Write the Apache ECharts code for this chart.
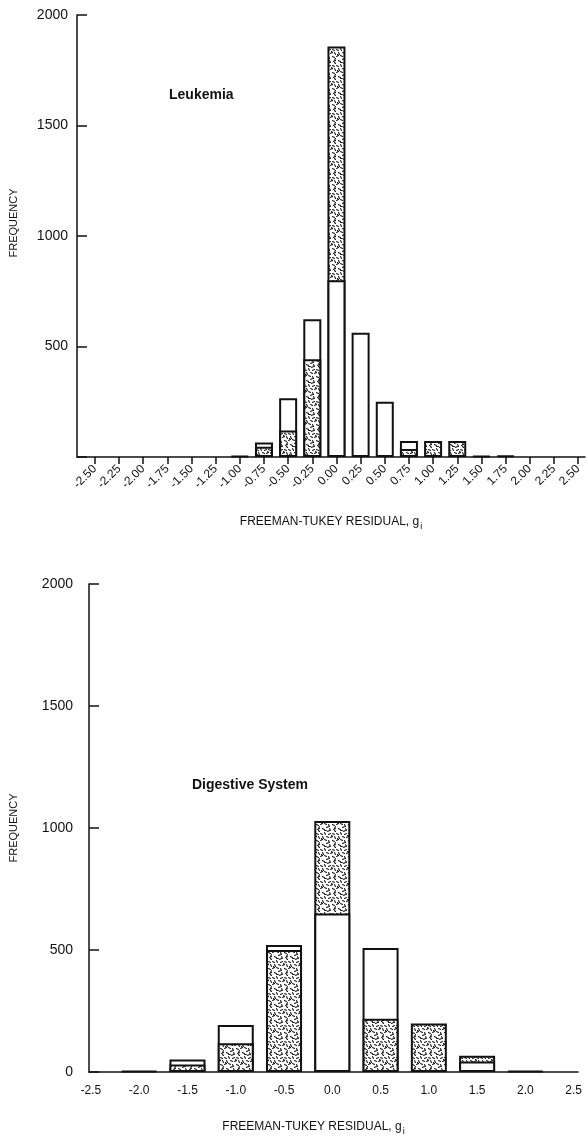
<!DOCTYPE html>
<html>
<head>
<meta charset="utf-8">
<script src="https://cdn.jsdelivr.net/npm/echarts@6/dist/echarts.min.js"></script>
<style>
html,body{margin:0;padding:0;background:#fff;}
#c{width:588px;height:1137px;}
</style>
</head>
<body>
<div id="c"></div>
<script>
// ---- Data: Leukemia (top panel) ----
const topCategories = [-2.5,-2.25,-2.0,-1.75,-1.5,-1.25,-1.0,-0.75,-0.5,-0.25,0.0,0.25,0.5,0.75,1.0,1.25,1.5,1.75,2.0,2.25,2.5];
const topWhite      = [0,0,0,0,0,0,4,66,266,623,800,562,250,72,0,0,4,6,0,0,0];
const topStippled   = [0,0,0,0,0,0,0,46,120,442,1857,0,0,36,72,72,0,0,0,0,0];
const topTickLabels = ['-2.50','-2.25','-2.00','-1.75','-1.50','-1.25','-1.00','-0.75','-0.50','-0.25','0.00','0.25','0.50','0.75','1.00','1.25','1.50','1.75','2.00','2.25','2.50'];

// ---- Data: Digestive System (bottom panel) ----
const botCategories = [-2.0,-1.5,-1.0,-0.5,0.0,0.5,1.0,1.5,2.0];
const botWhite      = [5,51,193,520,650,508,0,43,5];
const botStippled   = [0,31,118,500,1029,218,199,67,0];
const botTickValues = [-2.5,-2.0,-1.5,-1.0,-0.5,0.0,0.5,1.0,1.5,2.0,2.5];
const botTickLabels = ['-2.5','-2.0','-1.5','-1.0','-0.5','0.0','0.5','1.0','1.5','2.0','2.5'];

const yTicks = [0,500,1000,1500,2000];

// ---- stipple texture ----
function makeStipple(){
  const c = document.createElement('canvas');
  c.width = 16; c.height = 16;
  const g = c.getContext('2d');
  g.fillStyle = '#ffffff'; g.fillRect(0,0,16,16);
  g.strokeStyle = '#1e1e1e'; g.lineWidth = 1.1; g.lineCap = 'round';
  const marks = [[0,1,2,1],[4,0,1,2],[8,2,2,-1],[12,1,2,1],[2,4,1,2],[6,4,2,1],[10,5,2,-1],[14,4,1,2],
    [0,8,2,-1],[4,7,2,1],[8,8,1,2],[12,8,2,1],[15,10,-1,2],[2,12,2,1],[6,11,2,-1],[9,12,1,2],
    [13,13,2,-1],[4,14,2,0],[11,3,1,1],[7,15,2,-1],[1,6,1,1],[15,15,-1,-1]];
  marks.forEach(m=>{g.beginPath();g.moveTo(m[0]+0.5,m[1]+0.5);g.lineTo(m[0]+m[2]+0.5,m[1]+m[3]+0.5);g.stroke();});
  return c;
}
const stipple = {image: makeStipple(), repeat: 'repeat'};
const FONT = "'Liberation Sans', Arial, Helvetica, sans-serif";
const INK = '#111';

function layers(cats, white, stip){
  const back = [], front = [];
  cats.forEach((x,i)=>{
    const w = white[i], s = stip[i];
    const hi = Math.max(w,s), lo = Math.min(w,s);
    const hiStip = s >= w;
    back.push(hi > 0 ? {value:[x,hi], itemStyle:{color: hiStip ? stipple : '#fff'}} : {value:[x,null]});
    front.push(lo > 0 ? {value:[x,lo], itemStyle:{color: hiStip ? '#fff' : stipple}} : {value:[x,null]});
  });
  return {back, front};
}
const tL = layers(topCategories, topWhite, topStippled);
const bL = layers(botCategories, botWhite, botStippled);

function labelFor(vals, labels){
  return v => { for (let i=0;i<vals.length;i++){ if (Math.abs(vals[i]-v)<1e-6) return labels[i]; } return ''; };
}

const barStyle = {borderColor: INK, borderWidth: 2};

const option = {
  animation: false,
  backgroundColor: '#fff',
  textStyle: {fontFamily: FONT, color: INK},
  grid: [
    {left: 73, top: 15, width: 512, height: 442},
    {left: 88, top: 584, width: 490, height: 496}
  ],
  xAxis: [
    {
      type: 'value', gridIndex: 0, min: -2.685, max: 2.572,
      splitLine: {show: false},
      axisLine: {onZero: false, lineStyle: {color: INK, width: 1.5}},
      axisTick: {show: true, customValues: topCategories, length: 7, lineStyle: {color: INK, width: 1.5}},
      axisLabel: {customValues: topCategories, rotate: 45, margin: 10, fontSize: 12, color: INK, fontFamily: FONT,
                  formatter: labelFor(topCategories, topTickLabels)},
      name: '{a|FREEMAN-TUKEY RESIDUAL, g}{b|i}', nameLocation: 'middle', nameGap: 56,
      nameTextStyle: {rich: {a: {fontSize: 12, color: INK, fontFamily: FONT}, b: {fontSize: 9, color: INK, fontFamily: FONT, padding: [9,0,0,1]}}}
    },
    {
      type: 'value', gridIndex: 1, min: -2.52, max: 2.545,
      splitLine: {show: false},
      axisLine: {onZero: false, lineStyle: {color: INK, width: 1.5}},
      axisTick: {show: false},
      axisLabel: {customValues: botTickValues, margin: 13, fontSize: 12, color: INK, fontFamily: FONT,
                  formatter: labelFor(botTickValues, botTickLabels)},
      name: '{a|FREEMAN-TUKEY RESIDUAL, g}{b|i}', nameLocation: 'middle', nameGap: 46,
      nameTextStyle: {padding: [0, 40, 0, 0], rich: {a: {fontSize: 12, color: INK, fontFamily: FONT}, b: {fontSize: 9, color: INK, fontFamily: FONT, padding: [9,0,0,1]}}}
    }
  ],
  yAxis: [
    {
      type: 'value', gridIndex: 0, min: 0, max: 2000, interval: 500,
      splitLine: {show: false},
      axisLine: {show: true, onZero: false, lineStyle: {color: INK, width: 1.5}},
      axisTick: {show: true, inside: true, length: 10, lineStyle: {color: INK, width: 1.5}},
      axisLabel: {fontSize: 14, color: INK, margin: 9, fontFamily: FONT, formatter: v => v === 0 ? '' : String(v)},
      name: 'FREQUENCY', nameLocation: 'middle', nameGap: 58,
      nameTextStyle: {fontSize: 11, color: INK, fontFamily: FONT, padding: [0, 0, 0, 26]}
    },
    {
      type: 'value', gridIndex: 1, min: 0, max: 2000, interval: 500,
      splitLine: {show: false},
      axisLine: {show: true, onZero: false, lineStyle: {color: INK, width: 1.5}},
      axisTick: {show: true, inside: true, length: 10, lineStyle: {color: INK, width: 1.5}},
      axisLabel: {fontSize: 14, color: INK, margin: 16, fontFamily: FONT, formatter: v => String(v)},
      name: 'FREQUENCY', nameLocation: 'middle', nameGap: 70,
      nameTextStyle: {fontSize: 11, color: INK, fontFamily: FONT}
    }
  ],
  graphic: [
    {type: 'text', left: 169, top: 88, style: {text: 'Leukemia', font: "bold 14px 'Liberation Sans', Arial, sans-serif", fill: INK}},
    {type: 'text', left: 192, top: 778, style: {text: 'Digestive System', font: "bold 14px 'Liberation Sans', Arial, sans-serif", fill: INK}}
  ],
  series: [
    {type: 'bar', xAxisIndex: 0, yAxisIndex: 0, barWidth: 18, data: tL.back, itemStyle: barStyle},
    {type: 'bar', xAxisIndex: 0, yAxisIndex: 0, barWidth: 18, barGap: '-100%', data: tL.front, itemStyle: barStyle},
    {type: 'bar', xAxisIndex: 1, yAxisIndex: 1, barWidth: 36, data: bL.back, itemStyle: barStyle},
    {type: 'bar', xAxisIndex: 1, yAxisIndex: 1, barWidth: 36, barGap: '-100%', data: bL.front, itemStyle: barStyle}
  ]
};
const chart = echarts.init(document.getElementById('c'), null, {renderer: 'canvas'});
chart.setOption(option);
</script>
</body>
</html>
